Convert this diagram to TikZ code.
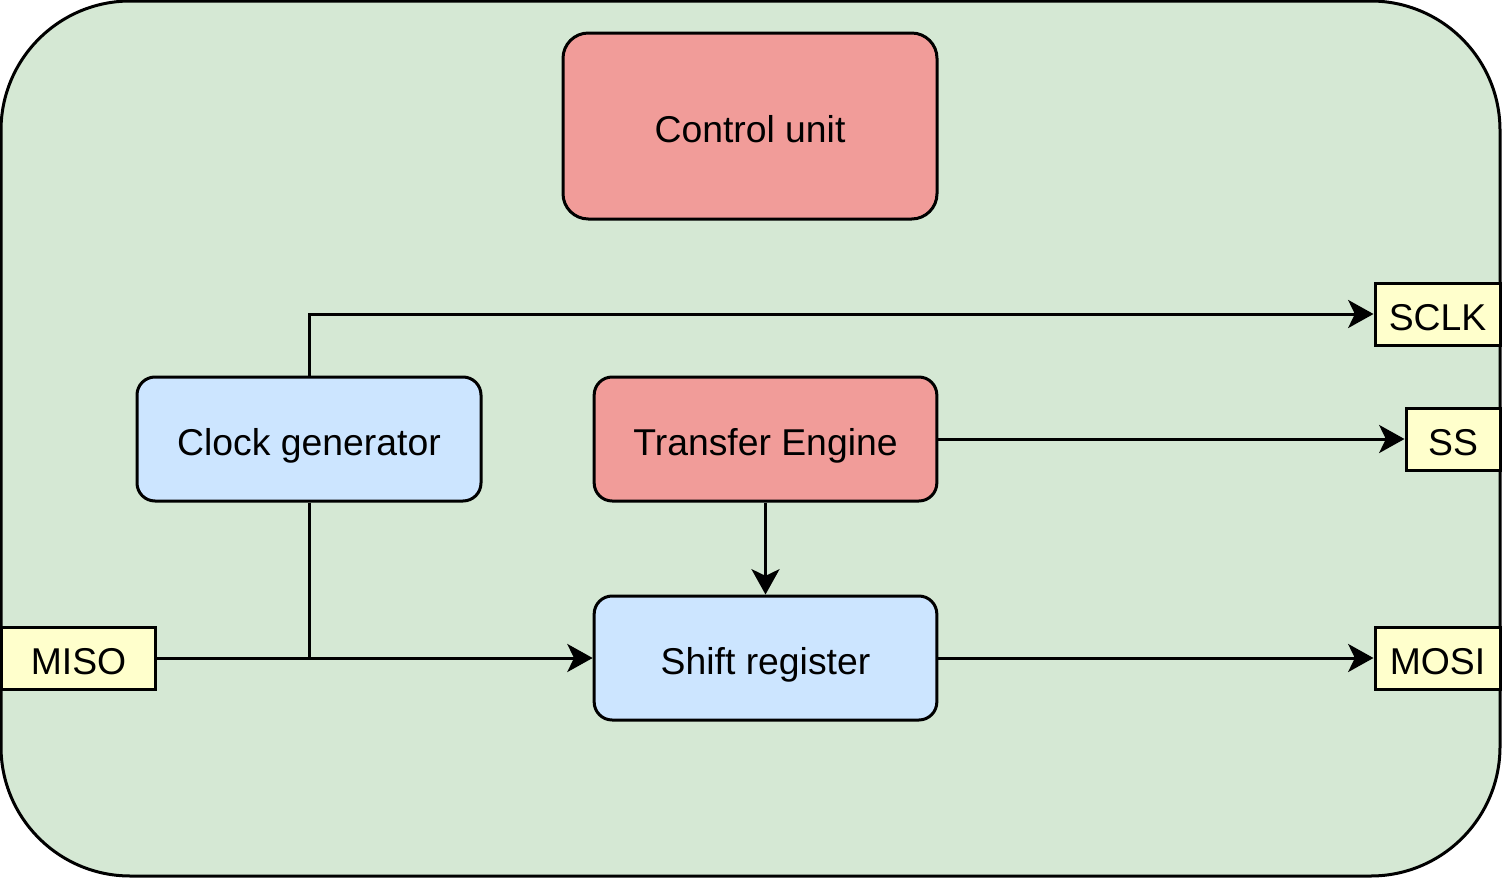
\documentclass[tikz,border=0pt]{standalone}
\usepackage{fontspec}
\setmainfont{Liberation Sans}
\usetikzlibrary{arrows.meta}
\definecolor{boardgreen}{RGB}{213,232,212}
\definecolor{unitred}{RGB}{241,156,153}
\definecolor{regblue}{RGB}{204,229,255}
\definecolor{pinyellow}{RGB}{255,255,204}
\tikzset{
  block/.style={draw, line width=2.25pt, rounded corners=13.5pt, minimum width=257pt, minimum height=93pt, inner sep=0pt, text height=24pt, text depth=0pt, font=\fontsize{28}{34}\selectfont},
  redblock/.style={block, fill=unitred},
  blueblock/.style={block, fill=regblue},
  pin/.style={draw, line width=2.25pt, fill=pinyellow, minimum height=46.5pt, inner sep=0pt, text height=24pt, text depth=0pt, font=\fontsize{28}{34}\selectfont},
  wire/.style={line width=2.25pt, -{Stealth[length=19pt, width=21pt, inset=5pt]}},
  plainwire/.style={line width=2.25pt}
}
\begin{document}
\begin{tikzpicture}[x=0.75pt,y=0.75pt,yscale=-1,xscale=1]
\useasboundingbox (0,0) rectangle (1503,878);

%Shape: Rounded Rect (board)
\draw [line width=2.25pt, fill=boardgreen, rounded corners=97pt] (1,1) rectangle (1500,876);

% Units
\node [redblock, minimum width=280.5pt, minimum height=139.5pt, rounded corners=19pt] (ctrl) at (750,126) {Control unit};
\node [blueblock, minimum width=258pt] (clk) at (309,439) {Clock generator};
\node [redblock] (te) at (765.5,439) {Transfer Engine};
\node [blueblock] (sr) at (765.5,658) {Shift register};

% Pins
\node [pin, minimum width=93.75pt] (sclk) at (1437.5,314) {SCLK};
\node [pin, minimum width=70.5pt] (ss) at (1453,439) {SS};
\node [pin, minimum width=116pt] (miso) at (78.5,658) {MISO};
\node [pin, minimum width=93.75pt] (mosi) at (1437.5,658) {MOSI};

%Straight Lines
\coordinate (join) at (clk.south |- sr.west);
\draw [wire] (clk.north) |- (sclk.west);
\draw [wire] (te.east) -- (ss.west);
\draw [wire] (te.south) -- (sr.north);
\draw [wire] (clk.south) |- (sr.west);
\draw [plainwire] (miso.east) -- (join);
\draw [wire] (sr.east) -- (mosi.west);

\end{tikzpicture}
\end{document}
